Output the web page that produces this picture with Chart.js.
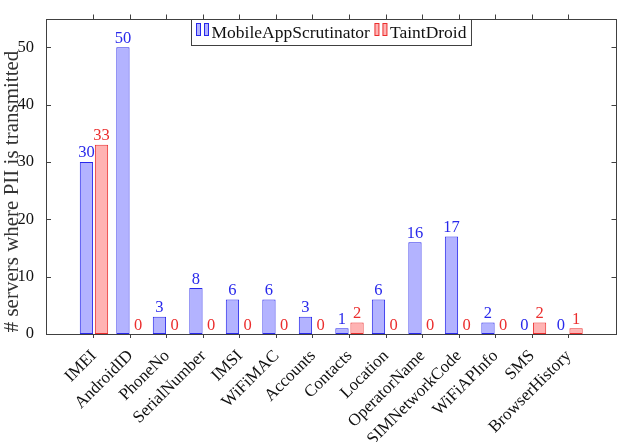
<!DOCTYPE html>
<html>
<head>
<meta charset="utf-8">
<script src="https://cdn.jsdelivr.net/npm/chart.js@4.4.1/dist/chart.umd.min.js"></script>
<style>
   body { margin: 0; background: #fff; }
</style>
</head>
<body>
<canvas id="piiChart" width="621" height="442"></canvas>
<script>
(function () {
   var categories = ["IMEI", "AndroidID", "PhoneNo", "SerialNumber", "IMSI", "WiFiMAC", "Accounts",
      "Contacts", "Location", "OperatorName", "SIMNetworkCode", "WiFiAPInfo", "SMS", "BrowserHistory"];
   var scrutinatorValues = [30, 50, 3, 8, 6, 6, 3, 1, 6, 16, 17, 2, 0, 0];
   var taintDroidValues = [33, 0, 0, 0, 0, 0, 0, 2, 0, 0, 0, 0, 2, 1];
   var seriesNames = ["MobileAppScrutinator", "TaintDroid"];
   var yTicks = [0, 10, 20, 30, 40, 50];
   var yTitle = "# servers where PII is transmitted";

   var serif = "'Liberation Serif', 'Times New Roman', serif";
   var frameColor = "#404040";
   var blueFill = "rgb(179,179,255)", blueLine = "rgb(40,40,235)";
   var redFill = "rgb(255,179,179)", redLine = "rgb(235,45,45)";
   var xPad = 1.314; // empty room left/right of the first and last group

   var toPoints = function (values) {
      return values.map(function (v, i) { return { x: i, y: v }; });
   };
   var categoryTicks = function (scale) {
      scale.ticks = categories.map(function (c, i) { return { value: i }; });
   };
   // keep the plot box where it is, rotated labels may hang outside
   var fixHeight = function (h) {
      return function (scale) {
         scale.height = h;
         scale.paddingLeft = 0;
         scale.paddingRight = 0;
      };
   };

   // frame, inside y ticks, value labels, legend box and y title
   var decorations = {
      id: "decorations",
      afterDatasetsDraw: function (chart) {
         var ctx = chart.ctx;
         var area = chart.chartArea;
         var yScale = chart.scales.y;
         ctx.save();

         ctx.strokeStyle = frameColor;
         ctx.lineWidth = 1;
         ctx.strokeRect(Math.round(area.left) + 0.5, Math.round(area.top) + 0.5,
            Math.round(area.right - area.left) - 1, Math.round(area.bottom - area.top) - 1);
         yTicks.forEach(function (v) {
            var py = Math.round(yScale.getPixelForValue(v)) + 0.5;
            ctx.beginPath();
            ctx.moveTo(area.left, py); ctx.lineTo(area.left + 5, py);
            ctx.moveTo(area.right - 5, py); ctx.lineTo(area.right, py);
            ctx.stroke();
         });

         // numbers above the bars
         ctx.font = "16.5px " + serif;
         ctx.textAlign = "center";
         ctx.textBaseline = "alphabetic";
         chart.data.datasets.forEach(function (ds, di) {
            var meta = chart.getDatasetMeta(di);
            meta.data.forEach(function (bar, i) {
               ctx.fillStyle = ds.borderColor;
               ctx.fillText(String(ds.data[i].y), bar.x, bar.y - 4.5);
            });
         });

         // legend inside the top of the plot
         ctx.font = "17.5px " + serif;
         var iconW = 13, gapText = 2, gapItem = 5, pad = 5;
         var widths = seriesNames.map(function (n) { return ctx.measureText(n).width; });
         var boxW = pad * 2 + gapItem + widths[0] + widths[1] + 2 * (iconW + gapText);
         var boxH = 26;
         var bx = Math.round((area.left + area.right) / 2 - boxW / 2) + 0.5;
         var by = Math.round(area.top) + 0.5;
         ctx.fillStyle = "#fff";
         ctx.fillRect(bx, by, boxW, boxH);
         ctx.strokeStyle = frameColor;
         ctx.strokeRect(bx, by, boxW, boxH);
         var cx = bx + pad;
         ctx.textAlign = "left";
         ctx.textBaseline = "middle";
         chart.data.datasets.forEach(function (ds, di) {
            ctx.fillStyle = ds.backgroundColor;
            ctx.strokeStyle = ds.borderColor;
            [0, 8].forEach(function (off) {
               ctx.fillRect(cx + off, by + 4, 4, 12);
               ctx.strokeRect(cx + off, by + 4, 4, 12);
            });
            cx += iconW + gapText;
            ctx.fillStyle = "#111";
            ctx.fillText(seriesNames[di], cx, by + boxH / 2 + 1);
            cx += widths[di] + gapItem;
         });

         // rotated y axis title
         ctx.font = "21px " + serif;
         ctx.fillStyle = "#333";
         ctx.textAlign = "center";
         ctx.textBaseline = "middle";
         ctx.translate(12, 191.5);
         ctx.rotate(-Math.PI / 2);
         ctx.fillText(yTitle, 0, 0);
         ctx.restore();
      }
   };

   var ctx = document.getElementById("piiChart").getContext("2d");
   var piiChart = new Chart(ctx, {
      type: "bar",
      data: {
         datasets: [{
            label: seriesNames[0],
            data: toPoints(scrutinatorValues),
            backgroundColor: blueFill,
            borderColor: blueLine,
            borderWidth: 1,
            borderSkipped: false,
            inflateAmount: 0,
            barPercentage: 0.88,
            categoryPercentage: 0.826
         }, {
            label: seriesNames[1],
            data: toPoints(taintDroidValues),
            backgroundColor: redFill,
            borderColor: redLine,
            borderWidth: 1,
            borderSkipped: false,
            inflateAmount: 0,
            barPercentage: 0.88,
            categoryPercentage: 0.826
         }]
      },
      options: {
         responsive: false,
         animation: false,
         layout: { padding: { left: 0, right: 4.5, top: 0, bottom: 0 } },
         plugins: { legend: { display: false }, tooltip: { enabled: false } },
         scales: {
            x: {
               type: "linear",
               position: "bottom",
               offset: false,
               min: -xPad,
               max: categories.length - 1 + xPad,
               afterBuildTicks: categoryTicks,
               afterFit: fixHeight(108),
               border: { display: false },
               grid: { offset: false, drawOnChartArea: false, tickLength: 4, color: frameColor },
               ticks: {
                  autoSkip: false,
                  minRotation: 45,
                  maxRotation: 45,
                  padding: 8,
                  color: "#111",
                  font: { family: serif, size: 17 },
                  callback: function (value) { return categories[value]; }
               }
            },
            xTop: {
               type: "linear",
               position: "top",
               offset: false,
               min: -xPad,
               max: categories.length - 1 + xPad,
               afterBuildTicks: categoryTicks,
               afterFit: fixHeight(18.5),
               border: { display: false },
               grid: { offset: false, drawOnChartArea: false, tickLength: 4, color: frameColor },
               ticks: { display: false }
            },
            y: {
               min: 0,
               max: 55,
               afterFit: function (scale) {
                  scale.width = 46;
                  scale.paddingTop = 0;
                  scale.paddingBottom = 0;
               },
               border: { display: false },
               grid: { display: false },
               afterBuildTicks: function (scale) {
                  scale.ticks = yTicks.map(function (v) { return { value: v }; });
               },
               ticks: {
                  padding: 4,
                  color: "#111",
                  font: { family: serif, size: 16.5 }
               }
            }
         }
      },
      plugins: [decorations]
   });
})();
</script>
</body>
</html>
